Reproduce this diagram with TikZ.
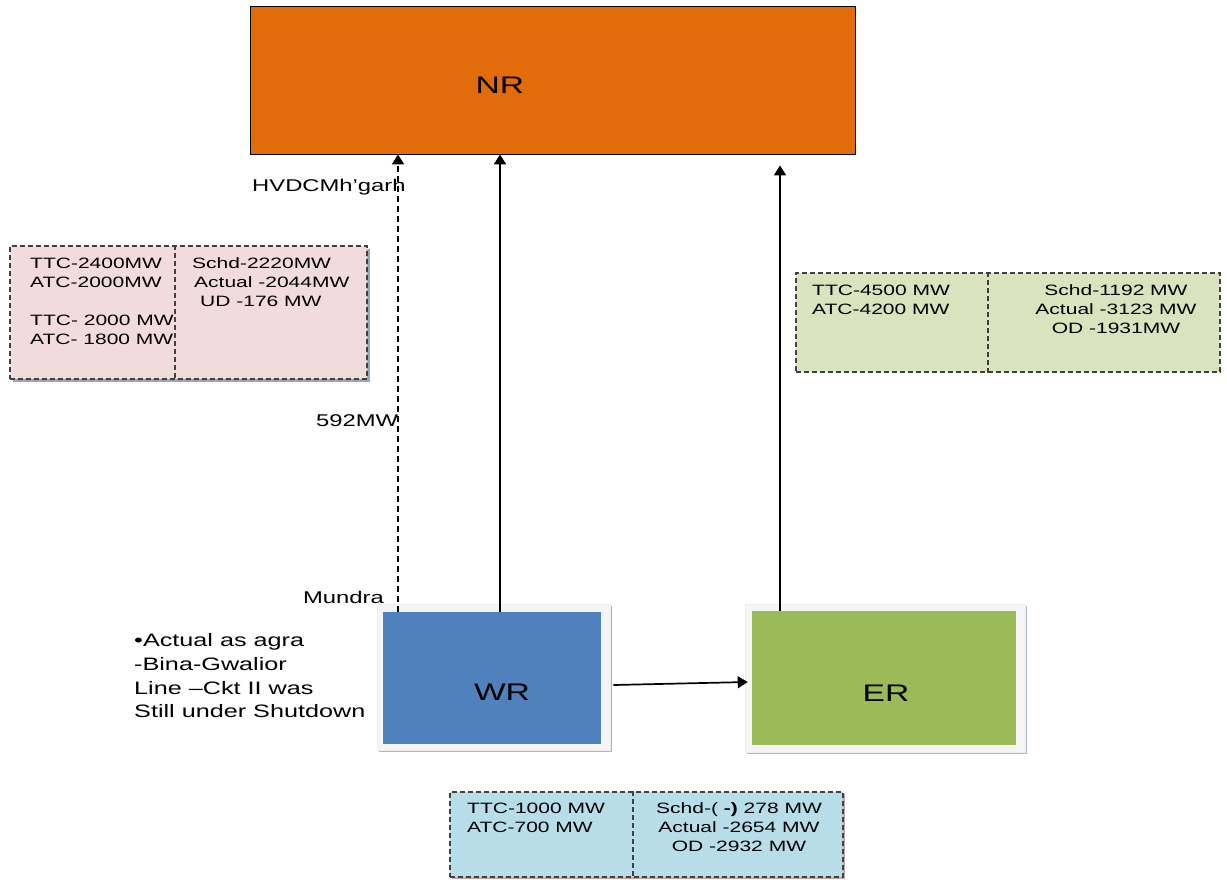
\documentclass[tikz,border=0pt]{standalone}
\usepackage{fontspec}
\setmainfont[FakeStretch=1.4]{Liberation Sans}
\usetikzlibrary{arrows.meta,calc,shadows}
\definecolor{nrorange}{RGB}{227,108,10}
\definecolor{wrblue}{RGB}{79,129,189}
\definecolor{ergreen}{RGB}{155,187,89}
\definecolor{pinkfill}{RGB}{242,220,219}
\definecolor{greenfill}{RGB}{215,228,189}
\definecolor{bluefill}{RGB}{183,222,232}
\definecolor{boxedge}{RGB}{64,64,64}
\definecolor{pinkshadow}{RGB}{150,168,185}
\definecolor{blueshadow}{RGB}{200,165,160}
\definecolor{frameshadow}{RGB}{175,185,195}
\begin{document}
\begin{tikzpicture}[x=1pt,y=-1pt,
  regionbox/.style={draw=black, line width=0.8pt, inner sep=0},
  framebox/.style={fill=gray!8, draw=gray!15, line width=0.6pt, inner sep=0,
    drop shadow={shadow xshift=1.5pt, shadow yshift=-1.5pt, fill=frameshadow, opacity=1}},
  innerbox/.style={draw=none, inner sep=0},
  infobox/.style={draw=boxedge, line width=1.3pt, dash pattern=on 5pt off 3pt, inner sep=0},
  divider/.style={draw=boxedge, line width=1.3pt, dash pattern=on 5pt off 3pt},
  boxtext/.style={font=\fontsize{15}{19}\selectfont, inner sep=0, text=black},
  tag/.style={font=\fontsize{17}{20}\selectfont, inner sep=0, text=black},
  note/.style={font=\fontsize{18}{23.7}\selectfont, inner sep=0, text=black, align=left},
  regionlabel/.style={font=\fontsize{24}{28}\selectfont, inner sep=0, text=black},
  flow/.style={line width=1.7pt, -{Triangle[length=10pt,width=12pt]}},
  flowdash/.style={flow, dash pattern=on 6pt off 4pt}
]
\useasboundingbox (0,0) rectangle (1227,879);
\fill[white] (0,0) rectangle (1227,879);

% Northern region
\node[regionbox, fill=nrorange, minimum width=605, minimum height=148] (NR) at (552.5,80) {};
\node[regionlabel] (NRtext) at (500,85) {NR};

% Western region
\node[framebox, minimum width=233, minimum height=146] (WRf) at (493.5,677) {};
\node[innerbox, fill=wrblue, minimum width=218, minimum height=132] (WRin) at (492,678) {};
\node[regionlabel] (WRtext) at (502,692) {WR};

% Eastern region
\node[framebox, minimum width=280, minimum height=148] (ERf) at (885,678) {};
\node[innerbox, fill=ergreen, minimum width=264, minimum height=134] (ERin) at (884,678) {};
\node[regionlabel] (ERtext) at (886,693) {ER};

% Corridor columns
\coordinate (xdash) at (398,0);
\coordinate (xmid) at (500,0);
\coordinate (xer) at (780,0);

% Flows
\draw[flowdash] (WRin.north -| xdash) -- (NR.south -| xdash);
\draw[flow] (WRin.north -| xmid) -- (NR.south -| xmid);
\draw[flow, shorten >=11pt] (ERin.north -| xer) -- (NR.south -| xer);
\draw[flow] ([xshift=3pt,yshift=-8pt]WRf.east) -- ([xshift=3pt,yshift=-4pt]ERf.west);

% Corridor labels
\node[tag, anchor=base west] (hvdc) at (252,191) {HVDCMh’garh};
\node[tag, anchor=base west] (mw592) at (316,426) {592MW};
\node[tag, anchor=base east] (mundra) at (384,603) {Mundra};

\node[note, anchor=north west] (remark) at (134,633.5)
  {•Actual as agra\\-Bina-Gwalior\\Line –Ckt II was\\Still under Shutdown};

% WR -> NR transfer limits
\node[infobox, fill=pinkfill, minimum width=357, minimum height=133,
  drop shadow={shadow xshift=2.5pt, shadow yshift=-2.5pt, fill=pinkshadow, opacity=1}] (pink) at (188.5,312.5) {};
\coordinate (pinkdiv) at (175,0);
\draw[divider] (pink.north -| pinkdiv) -- (pink.south -| pinkdiv);
\node[boxtext, anchor=north west, align=left] (pinkL) at (30,257.6)
  {TTC-2400MW\\ATC-2000MW\\[19pt]TTC- 2000 MW\\ATC- 1800 MW};
\node[boxtext, anchor=north west, align=left] (pinkR) at (192,257.6)
  {Schd-2220MW\\\hspace*{2pt}Actual -2044MW\\\hspace*{8pt}UD -176 MW};

% ER -> NR transfer limits
\node[infobox, fill=greenfill, minimum width=424, minimum height=99] (green) at (1008,322.5) {};
\coordinate (greendiv) at (988,0);
\draw[divider] (green.north -| greendiv) -- (green.south -| greendiv);
\node[boxtext, anchor=north west, align=left] (greenL) at (812,284.6)
  {TTC-4500 MW\\ATC-4200 MW};
\node[boxtext, anchor=north, align=center] (greenR) at (1116,284.6)
  {Schd-1192 MW\\Actual -3123 MW\\OD -1931MW};

% WR -> ER transfer limits
\node[infobox, fill=bluefill, minimum width=393, minimum height=85,
  drop shadow={shadow xshift=2pt, shadow yshift=-2pt, fill=blueshadow, opacity=1}] (blue) at (646.5,834.5) {};
\coordinate (bluediv) at (633,0);
\draw[divider] (blue.north -| bluediv) -- (blue.south -| bluediv);
\node[boxtext, anchor=north west, align=left] (blueL) at (467,802.6)
  {TTC-1000 MW\\ATC-700 MW};
\node[boxtext, anchor=north, align=center] (blueR) at (739,802.6)
  {Schd-( \textbf{-)} 278 MW\\Actual -2654 MW\\OD -2932 MW};
\end{tikzpicture}
\end{document}
